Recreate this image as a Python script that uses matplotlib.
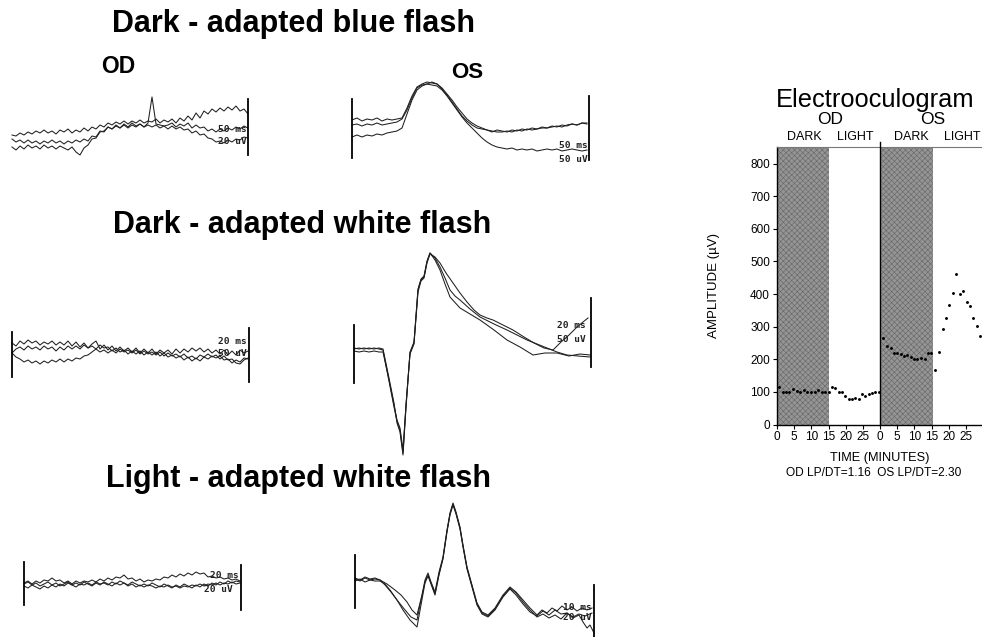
import matplotlib
matplotlib.use("Agg")
import matplotlib.pyplot as plt

plt.rcParams['font.family'] = ['Liberation Sans', 'DejaVu Sans']
plt.rcParams['hatch.linewidth'] = 0.45

W, H = 982, 637

# ---------------- ERG traces (t in ms-ish sample units, amplitude in uV-ish units) ----------------
# row 1 OD : dark-adapted blue flash
t_r1od = list(range(0, 240, 4))
r1od_a = [5,4,7,5,8,6,9,7,10,7, 9,6,10,8,11,7,10,8,12,9, 13,11,15,13,17,15,18,16,19,16,
          19,17,20,17,19,18,21,17,20,18, 21,17,22,19,24,20,27,22,29,26, 31,28,32,29,33,30,34,29,31,26]
r1od_b = [1,-2,0,-3,0,-3,-1,-4,-1,-3, 0,-3,-1,-4,-1,-3,0,-2,1,-1, 4,3,9,8,13,11,15,12,16,13,
          17,14,16,13,17,43,16,15,14,15, 17,13,16,14,17,12,15,12,13,9, 11,8,11,9,12,10,13,11,14,12]
r1od_c = [-7,-10,-6,-9,-5,-8,-6,-9,-5,-8, -6,-9,-6,-8,-10,-7,-12,-15,-8,-5, 1,2,8,9,13,11,14,12,15,12,
          15,13,16,13,15,13,15,12,14,11, 14,11,13,10,11,7,9,5,6,2, 1,-2,-1,-3,0,-2,1,0,3,2]

# row 1 OS
t_r1os = list(range(0, 240, 5))
r1os_a = [10,12,9,11,10,12,9,11,10,11, 12,22,34,43,46,48,47,46,41,35, 28,21,14,9,5,2,1,0,-2,0,
          -1,-2,0,-1,1,0,2,1,3,2, 4,3,5,4,6,5,7,6]
r1os_b = [5,6,4,6,5,7,5,6,7,8, 11,20,32,42,45,46,48,46,42,36, 30,23,17,11,7,4,2,0,-1,-2,
          -2,-1,-2,0,-1,1,0,1,2,2, 3,4,3,5,6,5,7,7]
r1os_c = [-7,-5,-7,-5,-6,-4,-5,-3,-2,-1, 2,16,30,40,44,46,45,44,40,34, 27,20,13,7,2,-3,-8,-12,-15,-17,
          -18,-19,-18,-20,-19,-20,-19,-21,-20,-19, -20,-19,-21,-20,-19,-20,-21,-20]

# row 2 OD : dark-adapted white flash
t_r2od = list(range(0, 240, 4))
r2od_a = [7,4,9,6,10,7,9,5,8,6, 9,5,8,5,9,4,8,3,7,2, 6,9,1,5,0,4,-1,3,-1,2,
          -2,2,-3,1,-3,1,-4,0,-3,0, -4,1,-3,1,-2,2,-1,2,-2,1, -3,0,-4,0,-5,-1,-5,0,-3,-1]
r2od_b = [-3,1,3,0,4,1,3,0,4,1, 3,-1,3,0,4,1,4,1,5,2, 4,1,5,2,3,-1,2,-2,0,-4,
          -1,-4,-1,-5,-2,-5,-2,-6,-3,-7, -5,-8,-6,-10,-7,-11,-8,-11,-7,-9, -6,-8,-6,-10,-9,-13,-10,-12,-8,-9]
r2od_c = [-3,-7,-9,-12,-10,-13,-11,-14,-11,-13, -10,-12,-9,-12,-9,-11,-8,-9,-6,-5, -2,1,-2,0,-3,0,-3,1,-2,0,
          -3,0,-4,-1,-4,-2,-5,-2,-6,-3, -6,-4,-7,-4,-8,-6,-9,-5,-7,-4, -7,-5,-9,-6,-10,-9,-13,-14,-10,-8]

# row 2 OS
t_r2os_a = [0,5,10,15,20,25,29,35,40,43,46,49,52,56,60,64,67,70,73,76,81,86,91,96,101,106,
            116,126,140,153,163,173,183,193,203,213,224,236]
r2os_a = [2,1,2,1,2,1,0,-31,-57,-71,-80,-103,-55,-3,7,60,70,73,88,97,92,83,72,60,54,50,
          41,33,26,20,15,10,6,2,-2,-5,-6,-7]
t_r2os_b = [0,5,10,15,20,25,29,35,40,43,46,49,52,56,60,64,67,70,73,76,81,86,92,99,106,113,120,126,133,139,
            149,159,170,180,190,199,207,215,222,229,234]
r2os_b = [-1,-2,-1,-2,-1,-2,-2,-30,-55,-70,-78,-100,-55,-4,6,58,69,72,87,96,93,87,77,67,57,48,40,35,32,30,
          25,20,13,7,2,0,8,15,22,28,32]
t_r2os_c = [0,5,10,15,20,25,29,35,40,43,46,49,52,56,60,64,67,70,73,76,81,86,91,96,106,116,126,140,153,166,
            179,191,203,215,226,236]
r2os_c = [1,2,1,2,1,2,1,-28,-53,-73,-82,-105,-58,-2,8,61,71,74,89,97,90,80,66,53,42,36,30,20,10,3,
          -5,-3,-3,-6,-4,-5]

# row 3 OD : light-adapted white flash
t_r3od = list(range(0, 220, 4))
r3od_a = [0,2,-1,2,0,3,2,5,2,3, 0,2,-1,2,0,2,1,3,1,4, 2,5,3,6,5,8,4,5,2,4,
          1,3,2,4,3,6,5,8,6,9, 7,10,8,11,9,10,6,7,5,6, 4,5,3,4,2]
r3od_b = [-1,1,-2,0,-3,-1,1,-2,0,-3, -1,1,-2,0,-2,1,-1,-3,0,-2, 1,-1,-3,0,-2,0,-3,-1,-4,-2,
          -4,-2,-3,-5,-3,-4,-2,-4,-3,-5, -3,-4,-2,-3,-1,-3,-1,-2,0,-2, 0,-1,1,-1,0]
r3od_c = [-3,-5,-2,-4,-6,-3,-5,-2,-4,-1, -3,0,-2,-4,-1,-2,0,-2,1,-1, 0,-2,1,-1,2,0,-2,1,-1,-3,
          -1,-3,0,-2,-4,-1,-3,-5,-2,-4, -1,-3,-5,-2,-4,-1,-3,0,-2,1, -1,2,0,2,1]

# row 3 OS
t_r3os_a = [0,5,10,15,20,25,32,40,46,52,57,62,67,70,73,76,80,84,88,92,95,98,101,105,108,112,117,122,127,133,
            140,148,155,161,168,175,182,187,192,197,202,207,212,217,222,227,232,237]
r3os_a = [1,-1,2,0,1,0,-4,-10,-15,-22,-30,-35,-15,0,7,-2,-12,8,23,50,67,77,68,53,35,13,-5,-23,-32,-35,
          -28,-15,-7,-12,-20,-28,-35,-30,-33,-28,-31,-26,-30,-27,-31,-28,-30,-28]
t_r3os_b = [0,5,10,15,20,25,30,35,42,50,56,62,66,70,73,76,80,84,88,92,95,98,101,105,108,112,117,122,127,133,
            140,148,155,161,168,175,182,188,194,200,206,212,218,224,230,237]
r3os_b = [-1,1,-2,0,-1,-1,-4,-10,-20,-30,-37,-40,-20,-2,5,-3,-14,6,22,49,66,76,67,52,34,12,-6,-24,-33,-36,
          -29,-16,-8,-13,-22,-30,-37,-34,-38,-35,-39,-33,-37,-34,-36,-33]
t_r3os_c = [0,5,10,15,20,25,30,36,42,48,55,62,66,70,73,76,80,84,88,92,95,98,101,105,108,112,117,122,127,133,
            140,148,155,161,168,175,182,188,194,200,206,212,218,224,228,232,235,239]
r3os_c = [2,0,3,1,2,0,-5,-12,-20,-30,-40,-47,-25,-3,4,-4,-15,5,21,48,65,75,66,51,33,11,-7,-25,-34,-37,
          -30,-17,-9,-15,-24,-32,-36,-31,-35,-30,-34,-33,-38,-35,-42,-48,-45,-53]

# calibration bars: (t, amp_top, amp_bottom)
bars_r1od = [(236, 41, -15)]
bars_r1os = [(0, 31, -28), (237, 34, -30)]
bars_r2od = [(0, 18, -27), (237, 22, -32)]
bars_r2os = [(0, 25, -33), (237, 52, -17)]
bars_r3od = [(0, 21, -22), (217, 18, -27)]
bars_r3os = [(0, 25, -28), (239, -5, -57)]

# calibration labels: (t, amp, text)
cal_r1od = [(235, 11, "50 ms"), (235, -2, "20 uV")]
cal_r1os = [(236, -16, "50 ms"), (236, -29, "50 uV")]
cal_r2od = [(235, 8, "20 ms"), (235, -3, "50 uV")]
cal_r2os = [(232, 25, "20 ms"), (232, 11, "50 uV")]
cal_r3od = [(215, 7, "20 ms"), (209, -7, "20 uV")]
cal_r3os = [(237, -28, "10 ms"), (237, -37, "20 uV")]

# ---------------- EOG data ----------------
od_time = [0.7,1.7,2.6,3.6,4.8,5.7,6.7,7.9,8.8,9.8,11.0,11.9,13.1,14.1,15.0,
           16.0,17.0,18.0,18.9,19.9,20.9,21.8,22.8,23.8,24.8,25.7,26.7,27.7,28.6,29.6]
od_amp = [116,99,99,99,108,103,99,105,99,99,99,106,99,99,99,
          116,112,99,99,88,78,78,82,78,94,86,94,98,99,99]
os_time = [1.0,2.1,3.1,4.1,5.0,6.0,7.0,8.0,9.0,10.0,10.9,12.0,13.2,14.0,14.9,
           16.1,17.2,18.2,19.2,20.2,21.3,22.1,23.2,24.2,25.2,26.2,27.2,28.2,29.2]
os_amp = [265,241,236,220,220,217,210,213,207,200,200,205,200,220,220,
          167,223,292,326,367,403,463,399,408,375,362,326,301,272]
eog_ticks = [0, 5, 10, 15, 20, 25, 30, 35, 40, 45, 50, 55]
eog_ticklabels = ["0", "5", "10", "15", "20", "25", "0", "5", "10", "15", "20", "25"]
amp_ticks = [0, 100, 200, 300, 400, 500, 600, 700, 800]

fig = plt.figure(figsize=(W / 100, H / 100), dpi=100)


def panel(box, x_left, y_base):
    x0, y0, x1, y1 = box
    ax = fig.add_axes([x0 / W, 1 - y1 / H, (x1 - x0) / W, (y1 - y0) / H])
    ax.set_xlim(x0 - x_left, x1 - x_left)
    ax.set_ylim(y_base - y1, y_base - y0)
    ax.axis("off")
    return ax


def draw_panel(ax, traces, bars, cals):
    for t, a in traces:
        ax.plot(t, a, color="#1f1f1f", lw=0.75, solid_joinstyle="round")
    for t, top, bot in bars:
        ax.plot([t, t], [top, bot], color="black", lw=1.3)
    for t, a, s in cals:
        ax.text(t, a, s, ha="right", va="center", fontsize=6.8,
                family="DejaVu Sans Mono", fontweight="bold", color="#222222")


ax = panel((5, 90, 255, 165), 12, 140)
draw_panel(ax, [(t_r1od, r1od_a), (t_r1od, r1od_b), (t_r1od, r1od_c)], bars_r1od, cal_r1od)
ax = panel((345, 70, 600, 170), 352, 130)
draw_panel(ax, [(t_r1os, r1os_a), (t_r1os, r1os_b), (t_r1os, r1os_c)], bars_r1os, cal_r1os)
ax = panel((5, 320, 255, 390), 12, 350)
draw_panel(ax, [(t_r2od, r2od_a), (t_r2od, r2od_b), (t_r2od, r2od_c)], bars_r2od, cal_r2od)
ax = panel((345, 245, 600, 460), 354, 350)
draw_panel(ax, [(t_r2os_a, r2os_a), (t_r2os_b, r2os_b), (t_r2os_c, r2os_c)], bars_r2os, cal_r2os)
ax = panel((15, 555, 250, 620), 24, 583)
draw_panel(ax, [(t_r3od, r3od_a), (t_r3od, r3od_b), (t_r3od, r3od_c)], bars_r3od, cal_r3od)
ax = panel((345, 495, 600, 637), 355, 580)
draw_panel(ax, [(t_r3os_a, r3os_a), (t_r3os_b, r3os_b), (t_r3os_c, r3os_c)], bars_r3os, cal_r3os)

# titles
for x, y, s in [(294, 32, "Dark - adapted blue flash"),
                (302, 233, "Dark - adapted white flash"),
                (298, 487, "Light - adapted white flash")]:
    fig.text(x / W, 1 - y / H, s, ha="center", va="baseline", fontsize=22, fontweight="bold")
fig.text(118 / W, 1 - 73 / H, "OD", ha="center", va="baseline", fontsize=16.5, fontweight="bold")
fig.text(467 / W, 1 - 78 / H, "OS", ha="center", va="baseline", fontsize=16, fontweight="bold")

# ---------------- Electrooculogram ----------------
ax = fig.add_axes([777 / W, 1 - 424.5 / H, (982 - 777) / W + 0.01, (424.5 - 147) / H])
ax.set_xlim(0, 59.7 + 0.01 * W / 3.433)
ax.set_ylim(0, 851)
for x0, x1 in [(0, 15.2), (30, 45.3)]:
    ax.axvspan(x0, x1, facecolor="#959595", edgecolor="#6a6a6a", hatch="xxxxxx", linewidth=0, zorder=1)
ax.axvline(30, ymin=0, ymax=1.018, color="black", lw=1.0, clip_on=False, zorder=3)
ax.plot(od_time, od_amp, "o", ms=2.1, color="black", mec="none", zorder=4)
ax.plot([30 + t for t in os_time], os_amp, "o", ms=2.1, color="black", mec="none", zorder=4)
ax.spines["right"].set_visible(False)
ax.spines["top"].set_color("#777777")
for s in ["left", "bottom"]:
    ax.spines[s].set_linewidth(1.0)
ax.set_xticks(eog_ticks)
ax.set_xticklabels(eog_ticklabels, fontsize=8.5)
ax.set_yticks(amp_ticks)
ax.set_yticklabels([str(v) for v in amp_ticks], fontsize=8.5)
ax.tick_params(length=3, width=0.8, pad=2)
ax.set_ylabel("AMPLITUDE (\u00b5V)", fontsize=9.5, labelpad=22)
for x, s in [(8.0, "DARK"), (22.7, "LIGHT"), (39.0, "DARK"), (53.9, "LIGHT")]:
    ax.text(x, 1.015, s, transform=ax.get_xaxis_transform(), ha="center", va="bottom", fontsize=9)
for x, s in [(15.4, "OD"), (45.2, "OS")]:
    ax.text(x, 1.072, s, transform=ax.get_xaxis_transform(), ha="center", va="bottom", fontsize=12.5)
fig.text(875 / W, 1 - 107 / H, "Electrooculogram", ha="center", va="baseline", fontsize=18.3)
fig.text(880 / W, 1 - 461 / H, "TIME (MINUTES)", ha="center", va="baseline", fontsize=9.2)
fig.text(874 / W, 1 - 476 / H, "OD LP/DT=1.16  OS LP/DT=2.30", ha="center", va="baseline", fontsize=8.6)

fig.savefig("out.png", dpi=100)
